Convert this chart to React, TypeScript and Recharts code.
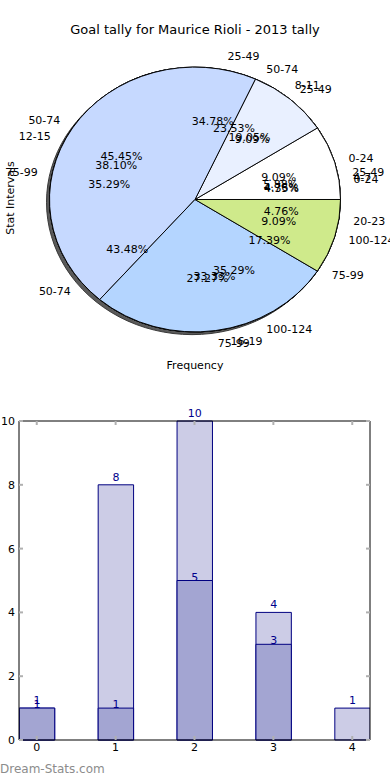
import React from "react";
import { Bar, BarChart, Cell, LabelList, Pie, PieChart, XAxis, YAxis } from "recharts";

// pie sets, drawn on top of each other (last one ends up visible)
const pieALabels = ["0-24", "25-49", "50-74", "75-99"];
const pieAValues = [1, 8, 10, 4];
const pieCLabels = ["25-49", "50-74", "75-99", "100-124"];
const pieCValues = [1, 4, 6, 6];
const pieDLabels = ["4-7", "8-11", "12-15", "16-19", "20-23"];
const pieDValues = [1, 4, 8, 7, 1];
const pieBLabels = ["0-24", "25-49", "50-74", "75-99", "100-124"];
const pieBValues = [1, 1, 5, 3, 1];

// bar chart
const barCats = [0, 1, 2, 3, 4];
const lightValues = [1, 8, 10, 4, 1];
const darkValues = [1, 1, 5, 3, 0];
const yTicks = [0, 2, 4, 6, 8, 10];

const PALETTE = ["#ffffff", "#e9f0ff", "#c6d9ff", "#b4d5ff", "#cfea8b"];
const CX = 195;
const CY = 199.5;
const R = 145.5;
const SQ = 0.91; // matplotlib axes aspect squashes the pie
const RAD = Math.PI / 180;
const FONT = "'DejaVu Sans', sans-serif";

const toPie = (labels: string[], values: number[]) =>
  labels.map((name, i) => ({ name, value: values[i] }));

const pies = [
  toPie(pieALabels, pieAValues),
  toPie(pieCLabels, pieCValues),
  toPie(pieDLabels, pieDValues),
  toPie(pieBLabels, pieBValues),
];

const barData = barCats.map((x, i) => ({ x, light: lightValues[i], dark: darkValues[i] }));

const renderPieLabel = (props: any) => {
  const { cx, cy, midAngle, outerRadius, percent } = props;
  const name = props.payload?.name ?? props.name;
  const c = Math.cos(midAngle * RAD);
  const s = Math.sin(midAngle * RAD);
  const lx = cx + 1.1 * outerRadius * c;
  const ly = cy - 1.1 * outerRadius * SQ * s;
  const px = cx + 0.6 * outerRadius * c;
  const py = cy - 0.6 * outerRadius * SQ * s;
  return (
    <g>
      <text x={lx} y={ly} textAnchor={c >= 0 ? "start" : "end"} dominantBaseline="central" fontSize={11} fill="#000" fontFamily={FONT}>
        {name}
      </text>
      <text x={px} y={py} textAnchor="middle" dominantBaseline="central" fontSize={11} fill="#000" fontFamily={FONT}>
        {(percent * 100).toFixed(2)}%
      </text>
    </g>
  );
};

const LeftTick = (props: any) => {
  const { x, y, payload } = props;
  return (
    <g>
      <text x={x} y={y} dy="0.355em" textAnchor="end" fontSize={11} fill="#000" fontFamily={FONT}>
        {payload.value}
      </text>
      <line x1={x + 4} x2={x + 8} y1={y} y2={y} stroke="#b0b0b0" strokeWidth={2} />
    </g>
  );
};

const BottomTick = (props: any) => {
  const { x, y, payload } = props;
  return (
    <g>
      <text x={x} y={y} dy="0.71em" textAnchor="middle" fontSize={11} fill="#000" fontFamily={FONT}>
        {payload.value}
      </text>
      <line x1={x} x2={x} y1={y - 3} y2={y - 7} stroke="#b0b0b0" strokeWidth={2} />
    </g>
  );
};

const NoTick = () => <g />;

export default function App() {
  return (
    <div style={{ position: "relative", width: 390, height: 780, fontFamily: FONT, background: "#fff" }}>
      <style>{`
        body { margin: 0; }
        .pie-area path.recharts-sector { transform-origin: ${CX}px ${CY}px; transform: scaleY(${SQ}); }
      `}</style>

      <div style={{ position: "absolute", left: 0, top: 22, width: 390, textAlign: "center", fontSize: 13, color: "#000" }}>
        Goal tally for Maurice Rioli - 2013 tally
      </div>

      <div className="pie-area" style={{ position: "absolute", left: 0, top: 0 }}>
        <PieChart width={390} height={390} margin={{ top: 0, right: 0, bottom: 0, left: 0 }}>
          <Pie
            data={[{ name: "shadow", value: 1 }]}
            dataKey="value"
            cx={CX - 3}
            cy={CY + 3}
            outerRadius={R}
            startAngle={0}
            endAngle={360}
            fill="#5a5a5a"
            stroke="#333"
            isAnimationActive={false}
            label={false}
          />
          {pies.map((d, pi) => (
            <Pie
              key={`pie-${pi}`}
              data={d}
              dataKey="value"
              nameKey="name"
              cx={CX}
              cy={CY}
              outerRadius={R}
              startAngle={0}
              endAngle={360}
              stroke="#000"
              strokeWidth={1}
              isAnimationActive={false}
              label={false}
            >
              {d.map((e, i) => (
                <Cell key={`c-${pi}-${i}`} fill={PALETTE[i % PALETTE.length]} />
              ))}
            </Pie>
          ))}
          {pies.map((d, pi) => (
            <Pie
              key={`lab-${pi}`}
              data={d}
              dataKey="value"
              nameKey="name"
              cx={CX}
              cy={CY}
              outerRadius={R}
              startAngle={0}
              endAngle={360}
              fill="transparent"
              stroke="none"
              isAnimationActive={false}
              labelLine={false}
              label={renderPieLabel}
            />
          ))}
        </PieChart>
      </div>

      <div
        style={{
          position: "absolute",
          left: 10,
          top: 198,
          transform: "translate(-50%, -50%) rotate(-90deg)",
          fontSize: 11,
          whiteSpace: "nowrap",
        }}
      >
        Stat Intervals
      </div>
      <div style={{ position: "absolute", left: 0, top: 359, width: 390, textAlign: "center", fontSize: 11 }}>
        Frequency
      </div>

      <div style={{ position: "absolute", left: 0, top: 400 }}>
        <BarChart width={390} height={370} data={barData} margin={{ top: 21, right: 20, bottom: 0, left: 0 }}>
          <XAxis
            xAxisId="a"
            type="number"
            dataKey="x"
            domain={[-0.225, 4.225]}
            ticks={barCats}
            height={30}
            tickSize={0}
            tickMargin={3}
            tickLine={false}
            axisLine={{ stroke: "#000" }}
            tick={BottomTick}
            allowDataOverflow
          />
          <XAxis
            xAxisId="b"
            type="number"
            dataKey="x"
            orientation="top"
            mirror
            domain={[-0.225, 4.225]}
            ticks={barCats}
            tickSize={4}
            tickLine={{ stroke: "#b0b0b0", strokeWidth: 2 }}
            axisLine={{ stroke: "#000" }}
            tick={NoTick}
            allowDataOverflow
          />
          <YAxis
            yAxisId="l"
            domain={[0, 10]}
            ticks={yTicks}
            width={19}
            tickSize={0}
            tickMargin={4}
            tickLine={false}
            axisLine={{ stroke: "#000" }}
            tick={LeftTick}
          />
          <YAxis
            yAxisId="r"
            orientation="right"
            mirror
            domain={[0, 10]}
            ticks={yTicks}
            tickSize={4}
            tickLine={{ stroke: "#b0b0b0", strokeWidth: 2 }}
            axisLine={{ stroke: "#000" }}
            tick={NoTick}
          />
          <Bar xAxisId="a" yAxisId="l" dataKey="light" barSize={35.4} fill="#ccccE6" stroke="#000080" strokeWidth={1} isAnimationActive={false}>
            <LabelList dataKey="light" position="top" offset={4} fill="#00008b" fontSize={11} fontFamily={FONT} />
          </Bar>
          <Bar xAxisId="b" yAxisId="r" dataKey="dark" barSize={35.4} fill="#a3a5d2" stroke="#000080" strokeWidth={1} isAnimationActive={false}>
            <LabelList
              dataKey="dark"
              position="top"
              offset={0}
              fill="#00008b"
              fontSize={11}
              fontFamily={FONT}
              formatter={(v: any) => (v === 0 ? "" : v)}
            />
          </Bar>
        </BarChart>
      </div>

      <div style={{ position: "absolute", left: 0, top: 762, fontSize: 12, color: "#8c8c8c" }}>Dream-Stats.com</div>
    </div>
  );
}
